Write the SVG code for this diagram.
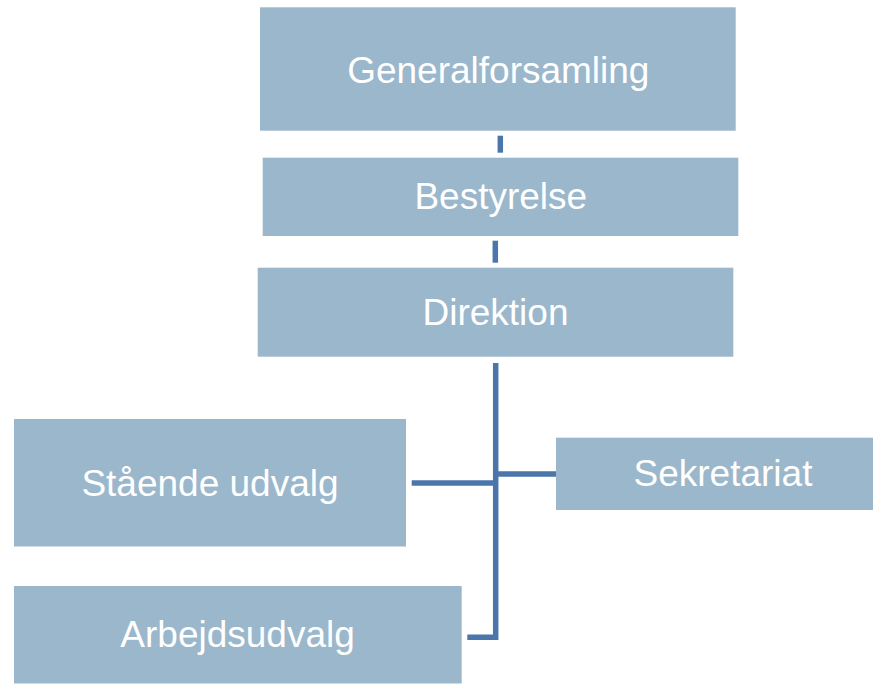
<svg xmlns="http://www.w3.org/2000/svg" width="873" height="684" viewBox="0 0 873 684">
<style>
.box{fill:#9AB7CC}
.lbl{font-family:"Liberation Sans",Arial,sans-serif;font-size:37px;fill:#FFFFFF;text-anchor:middle}
.con{fill:none;stroke:#4A76AB;stroke-width:5.5;stroke-linejoin:miter;stroke-linecap:butt}
</style>
<rect width="873" height="684" fill="#FFFFFF"/>
<g id="connectors">
<line class="con" x1="500.3" y1="135.7" x2="500.3" y2="152.7"/>
<line class="con" x1="495.3" y1="240.7" x2="495.3" y2="262.7"/>
<path class="con" d="M495.7 363 V637.3 H467.3"/>
<line class="con" x1="411.7" y1="483" x2="495.7" y2="483"/>
<line class="con" x1="495.7" y1="474" x2="556" y2="474"/>
</g>
<g id="generalforsamling">
<rect class="box" x="260" y="7.3" width="475.7" height="123.4"/>
<text class="lbl" x="498.3" y="82.5">Generalforsamling</text>
</g>
<g id="bestyrelse">
<rect class="box" x="262.7" y="157.7" width="475.6" height="78.3"/>
<text class="lbl" x="500.8" y="209">Bestyrelse</text>
</g>
<g id="direktion">
<rect class="box" x="257.7" y="267.7" width="475.6" height="89"/>
<text class="lbl" x="495.5" y="325">Direktion</text>
</g>
<g id="staaende-udvalg">
<rect class="box" x="14" y="419" width="392" height="127.5"/>
<text class="lbl" x="210" y="495.5">Stående udvalg</text>
</g>
<g id="sekretariat">
<rect class="box" x="556" y="437.7" width="334" height="72.3"/>
<text class="lbl" x="723" y="485.5">Sekretariat</text>
</g>
<g id="arbejdsudvalg">
<rect class="box" x="14" y="586" width="447.7" height="97.5"/>
<text class="lbl" x="237.6" y="647">Arbejdsudvalg</text>
</g>
</svg>
